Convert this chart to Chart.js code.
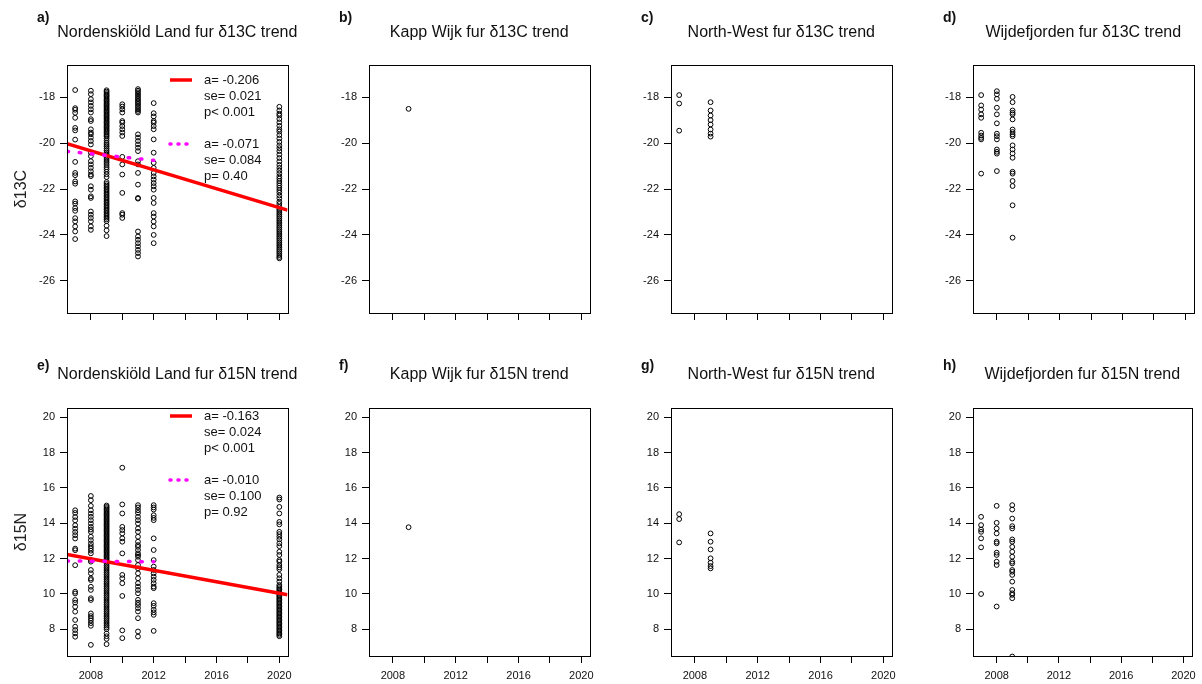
<!DOCTYPE html>
<html>
<head>
<meta charset="utf-8">
<title>δ13C and δ15N trends by region</title>
<script src="https://cdn.jsdelivr.net/npm/chart.js@4.4.1/dist/chart.umd.min.js"></script>
<style>
  html, body { margin: 0; padding: 0; background: #fff; }
  #grid { position: relative; width: 1202px; height: 684px; overflow: hidden; background: #fff; }
  #grid canvas { position: absolute; }
</style>
</head>
<body>
<div id="grid"></div>
<script>
// ---- axes ----
const yearTicks = [2008, 2010, 2012, 2014, 2016, 2018, 2020];
const yearLabels = [2008, 2012, 2016, 2020];
const yearRange = [2006.48, 2020.52];
const c13Ticks = [-26, -24, -22, -20, -18];
const c13Range = [-27.4, -16.6];
const n15Ticks = [8, 10, 12, 14, 16, 18, 20];
const n15Range = [6.48, 20.52];

const regions = ['Nordenskiöld Land', 'Kapp Wijk', 'North-West', 'Wijdefjorden'];
const letters = ['a)', 'b)', 'c)', 'd)', 'e)', 'f)', 'g)', 'h)'];

// ---- Nordenskiöld Land, δ13C ----
const nordC2007 = [-17.69, -18.48, -18.55, -18.68, -18.90, -19.34, -19.45, -19.85, -20.82, -21.30, -21.40, -21.67, -21.77, -22.54, -22.64, -22.83, -22.95, -23.27, -23.41, -23.63, -23.85, -24.18];
const nordC2008 = [-17.72, -17.87, -18.09, -18.23, -18.38, -18.53, -18.67, -18.96, -19.04, -19.40, -19.54, -19.62, -19.76, -19.91, -20.06, -20.42, -20.57, -20.79, -20.93, -21.08, -21.23, -21.37, -21.44, -21.88, -22.03, -22.32, -22.39, -22.98, -23.12, -23.26, -23.41, -23.63, -23.78];
const nordC2009 = [-17.70, -17.76, -17.82, -17.88, -17.93, -17.98, -18.04, -18.10, -18.15, -18.20, -18.26, -18.31, -18.36, -18.42, -18.47, -18.52, -18.58, -18.63, -18.68, -18.74, -18.79, -18.84, -18.90, -18.95, -19.00, -19.06, -19.11, -19.16, -19.22, -19.27, -19.32, -19.38, -19.43, -19.48, -19.54, -19.60, -19.66, -19.72, -19.80, -19.90, -20.00, -20.08, -20.15, -20.24, -20.32, -20.40, -20.48, -20.55, -20.62, -20.70, -20.78, -20.86, -20.95, -21.05, -21.14, -21.25, -21.36, -21.48, -21.70, -21.78, -21.85, -21.92, -21.99, -22.06, -22.13, -22.20, -22.27, -22.34, -22.41, -22.48, -22.55, -22.62, -22.69, -22.76, -22.83, -22.90, -22.97, -23.04, -23.11, -23.18, -23.25, -23.32, -23.40, -23.60, -23.80, -24.05];
const nordC2010 = [-18.31, -18.41, -18.53, -18.67, -19.04, -19.11, -19.26, -19.40, -19.54, -19.69, -20.60, -20.93, -21.37, -22.17, -23.05, -23.12, -23.26];
const nordC2011 = [-17.65, -17.72, -17.79, -17.87, -17.94, -18.02, -18.09, -18.16, -18.23, -18.30, -18.38, -18.45, -18.53, -18.60, -18.67, -19.62, -19.76, -19.91, -20.06, -20.20, -20.35, -20.79, -20.93, -21.30, -21.81, -22.39, -22.42, -23.85, -24.07, -24.21, -24.36, -24.50, -24.65, -24.79, -24.94];
const nordC2012 = [-18.26, -18.70, -18.84, -19.04, -19.11, -19.26, -19.40, -19.84, -20.42, -20.86, -21.08, -21.30, -21.45, -21.59, -21.74, -21.88, -22.03, -22.39, -22.61, -23.05, -23.20, -23.42, -23.63, -24.00, -24.36];
const nordC2020 = [-18.42, -18.58, -18.72, -18.80, -18.95, -19.10, -19.25, -19.40, -19.50, -19.65, -19.80, -19.95, -20.10, -20.22, -20.35, -20.50, -20.65, -20.80, -20.95, -21.08, -21.20, -21.32, -21.45, -21.55, -21.65, -21.75, -21.85, -21.95, -22.05, -22.15, -22.28, -22.40, -22.55, -22.65, -22.78, -22.88, -22.96, -23.04, -23.12, -23.20, -23.28, -23.36, -23.44, -23.52, -23.60, -23.68, -23.76, -23.84, -23.92, -24.00, -24.08, -24.16, -24.24, -24.32, -24.40, -24.48, -24.56, -24.64, -24.72, -24.80, -24.88, -24.96, -25.02];

// ---- Nordenskiöld Land, δ15N ----
const nordN2007 = [14.73, 14.58, 14.35, 14.16, 13.88, 13.69, 13.50, 13.32, 13.13, 12.56, 12.47, 11.62, 10.12, 10.02, 9.65, 9.50, 9.27, 8.99, 8.52, 8.14, 7.95, 7.76, 7.57];
const nordN2008 = [15.54, 15.30, 14.98, 14.73, 14.54, 14.36, 14.17, 13.98, 13.79, 13.64, 13.51, 13.23, 13.04, 12.85, 12.70, 12.57, 12.44, 12.29, 11.91, 11.82, 11.35, 11.16, 10.87, 10.78, 10.40, 10.22, 9.75, 9.65, 8.89, 8.74, 8.61, 8.49, 8.34, 8.19, 7.11];
const nordN2009 = [15.00, 14.92, 14.85, 14.78, 14.70, 14.63, 14.56, 14.49, 14.42, 14.35, 14.28, 14.21, 14.14, 14.07, 14.00, 13.93, 13.86, 13.79, 13.72, 13.65, 13.58, 13.51, 13.44, 13.37, 13.30, 13.23, 13.16, 13.09, 13.02, 12.95, 12.88, 12.81, 12.74, 12.67, 12.60, 12.53, 12.46, 12.39, 12.32, 12.25, 12.18, 12.11, 12.04, 11.97, 11.90, 11.80, 11.70, 11.60, 11.50, 11.40, 11.30, 11.20, 11.10, 11.00, 10.90, 10.80, 10.70, 10.60, 10.50, 10.40, 10.30, 10.20, 10.10, 10.00, 9.90, 9.80, 9.70, 9.60, 9.50, 9.40, 9.30, 9.20, 9.10, 9.00, 8.90, 8.80, 8.70, 8.60, 8.50, 8.40, 8.30, 8.20, 8.10, 8.00, 7.75, 7.60, 7.45, 7.15];
const nordN2010 = [17.14, 15.06, 14.55, 13.79, 13.61, 13.42, 13.14, 12.95, 12.29, 11.07, 10.88, 10.60, 9.88, 7.93, 7.49];
const nordN2011 = [15.02, 14.89, 14.73, 14.58, 14.36, 14.17, 13.98, 13.70, 13.51, 13.23, 12.95, 12.76, 12.66, 12.48, 12.29, 12.20, 12.10, 11.91, 11.63, 11.44, 11.16, 10.88, 10.60, 10.41, 10.22, 10.03, 9.66, 9.50, 9.37, 9.19, 9.00, 8.62, 7.87, 7.58];
const nordN2012 = [15.02, 14.89, 14.77, 14.45, 14.30, 14.17, 13.14, 12.48, 11.91, 11.54, 11.35, 11.16, 10.97, 10.79, 10.60, 10.41, 10.32, 9.47, 9.32, 9.10, 8.95, 8.81, 7.90];
const nordN2020 = [15.45, 15.34, 14.92, 14.55, 14.07, 13.93, 13.51, 13.38, 13.23, 13.08, 12.86, 12.70, 12.38, 12.20, 11.91, 11.82, 11.63, 11.50, 11.39, 11.07, 10.88, 10.69, 10.50, 10.40, 10.32, 10.24, 10.16, 10.08, 10.00, 9.92, 9.84, 9.76, 9.68, 9.60, 9.52, 9.44, 9.36, 9.28, 9.20, 9.12, 9.04, 8.96, 8.88, 8.80, 8.72, 8.64, 8.56, 8.48, 8.40, 8.32, 8.24, 8.16, 8.08, 8.00, 7.92, 7.84, 7.76, 7.68, 7.60];

// ---- Kapp Wijk ----
const kappC2009 = [-18.51];
const kappN2009 = [13.77];

// ---- North-West ----
const nwC2007 = [-17.91, -18.28, -19.46];
const nwC2009 = [-18.22, -18.58, -18.80, -19.00, -19.19, -19.41, -19.59, -19.72];
const nwN2007 = [14.51, 14.23, 12.91];
const nwN2009 = [13.42, 12.95, 12.51, 12.01, 11.76, 11.57, 11.44];

// ---- Wijdefjorden ----
const wijdC2007 = [-17.91, -18.36, -18.54, -18.75, -18.90, -19.55, -19.67, -19.77, -19.84, -21.33];
const wijdC2008 = [-17.74, -17.88, -18.07, -18.46, -18.75, -19.14, -19.59, -19.70, -19.84, -20.28, -20.38, -20.46, -21.22];
const wijdC2009 = [-17.99, -18.22, -18.58, -18.68, -18.75, -18.97, -19.41, -19.52, -19.62, -19.70, -20.10, -20.28, -20.45, -20.64, -21.25, -21.33, -21.65, -21.87, -22.71, -24.12];
const wijdN2007 = [14.36, 13.89, 13.64, 13.51, 13.14, 12.63, 9.99];
const wijdN2008 = [14.98, 14.02, 13.70, 13.42, 12.95, 12.86, 12.33, 12.20, 11.82, 11.63, 9.28];
const wijdN2009 = [15.02, 14.77, 14.26, 13.83, 13.70, 13.08, 12.95, 12.66, 12.38, 12.10, 11.82, 11.72, 11.35, 11.25, 11.07, 10.69, 10.22, 10.03, 9.94, 9.75, 6.45];

// ---- Nordenskiöld Land trend fits: [all years, 2007–2012] ----
const fitSlopeC = [-0.206, -0.071];
const fitSeC = [0.021, 0.084];
const fitPC = ['p< 0.001', 'p= 0.40'];
const fitLevelC = [-22.81, -20.75];     // fitted δ13C at the reference year
const fitSlopeN = [-0.163, -0.010];
const fitSeN = [0.024, 0.100];
const fitPN = ['p< 0.001', 'p= 0.92'];
const fitLevelN = [10.03, 11.81];       // fitted δ15N at the reference year
const fitRefYear = [2020, 2012];
const fitSpan = [[2006.48, 2020.52], [2006.48, 2012]];
const fitColors = ['#ff0000', '#ff00ff'];

const FONT = '"Liberation Sans", Arial, Helvetica, sans-serif';
Chart.defaults.font.family = FONT;

const toPoints = (year, values) => values.map(v => ({ x: year, y: v }));

function fitLine(k, slopes, levels) {
  const [x0, x1] = fitSpan[k];
  const yAt = x => levels[k] + slopes[k] * (x - fitRefYear[k]);
  return [{ x: x0, y: yAt(x0) }, { x: x1, y: yAt(x1) }];
}

// frame, panel letter, title and the fit legend
const panelDecor = {
  id: 'panelDecor',
  afterDatasetsDraw(chart, args, opts) {
    const { ctx, chartArea: ca } = chart;
    ctx.save();
    ctx.strokeStyle = '#000';
    ctx.lineWidth = 1;
    const l = Math.round(ca.left) + 0.5, t = Math.round(ca.top) + 0.5;
    const r = Math.round(ca.right) + 0.5, b = Math.round(ca.bottom) + 0.5;
    ctx.strokeRect(l, t, r - l, b - t);

    ctx.fillStyle = '#111';
    ctx.textBaseline = 'middle';
    ctx.textAlign = 'left';
    ctx.font = 'bold 14px ' + FONT;
    ctx.fillText(opts.letter, 37, opts.letterY);

    ctx.font = '16px ' + FONT;
    ctx.textAlign = 'center';
    ctx.fillText(opts.title, (ca.left + ca.right) / 2, opts.titleY);

    if (opts.legend) {
      ctx.font = '13px ' + FONT;
      ctx.textAlign = 'left';
      opts.legend.forEach((row, i) => {
        const y = opts.legendY + i * 16;
        if (row.color) {
          ctx.beginPath();
          ctx.strokeStyle = row.color;
          ctx.lineWidth = 3.5;
          if (row.dotted) { ctx.setLineDash([1, 7]); ctx.lineCap = 'round'; }
          else { ctx.setLineDash([]); ctx.lineCap = 'butt'; }
          ctx.moveTo(170, y);
          ctx.lineTo(192, y);
          ctx.stroke();
          ctx.setLineDash([]);
        }
        if (row.text) {
          ctx.fillStyle = '#111';
          ctx.fillText(row.text, 204, y);
        }
      });
    }
    ctx.restore();
  }
};

function legendRows(slopes, ses, ps) {
  const rows = [];
  [0, 1].forEach(k => {
    if (k) rows.push({});
    rows.push({ color: fitColors[k], dotted: k === 1, text: 'a= ' + slopes[k].toFixed(3) });
    rows.push({ text: 'se= ' + ses[k].toFixed(3) });
    rows.push({ text: ps[k] });
  });
  return rows;
}

function makePanel(idx, cfg) {
  const col = idx % 4, row = Math.floor(idx / 4);
  const W = col === 3 ? 296 : 302;
  const H = row === 0 ? 343 : 341;
  const canvas = document.createElement('canvas');
  canvas.width = W;
  canvas.height = H;
  canvas.style.width = W + 'px';
  canvas.style.height = H + 'px';
  canvas.style.left = (col * 302) + 'px';
  canvas.style.top = (row * 343) + 'px';
  document.getElementById('grid').appendChild(canvas);

  const datasets = [];
  cfg.groups.forEach(([year, values]) => {
    datasets.push({
      data: toPoints(year, values),
      showLine: false,
      pointStyle: 'circle',
      pointRadius: 2.4,
      pointBorderWidth: 1,
      pointBorderColor: '#000',
      pointBackgroundColor: 'rgba(0,0,0,0)',
      order: 3
    });
  });
  (cfg.fits || []).forEach((fit, k) => {
    datasets.push({
      data: fit,
      showLine: true,
      pointRadius: 0,
      borderColor: fitColors[k],
      borderWidth: 3.5,
      borderDash: k === 1 ? [1.5, 10.8] : [],
      borderCapStyle: k === 1 ? 'round' : 'butt',
      fill: false,
      order: 2 - k
    });
  });

  const tickFont = { size: 11, family: FONT };
  new Chart(canvas, {
    type: 'scatter',
    data: { datasets },
    plugins: [panelDecor],
    options: {
      responsive: false,
      animation: false,
      devicePixelRatio: 1,
      events: [],
      layout: { padding: { top: 65, right: W - 287.5, left: 0, bottom: 0 } },
      plugins: {
        legend: { display: false },
        tooltip: { enabled: false },
        panelDecor: {
          letter: letters[idx],
          letterY: row === 0 ? 18 : 23,
          title: cfg.title,
          titleY: row === 0 ? 33 : 32,
          legend: cfg.legend,
          legendY: row === 0 ? 80 : 73
        }
      },
      scales: {
        x: {
          type: 'linear',
          min: yearRange[0],
          max: yearRange[1],
          afterBuildTicks: s => { s.ticks = yearTicks.map(v => ({ value: v })); },
          afterFit: s => { s.height = H - 313; },
          ticks: {
            autoSkip: false,
            maxRotation: 0,
            minRotation: 0,
            padding: 6,
            color: '#111',
            font: tickFont,
            callback: v => (row === 1 && yearLabels.includes(v)) ? String(v) : ''
          },
          grid: { drawOnChartArea: false, drawTicks: true, tickLength: 7, color: '#000', lineWidth: 1 },
          border: { display: false }
        },
        y: {
          type: 'linear',
          min: cfg.yRange[0],
          max: cfg.yRange[1],
          afterBuildTicks: s => { s.ticks = cfg.yTicks.map(v => ({ value: v })); },
          afterFit: s => { s.width = 67; },
          ticks: {
            padding: 5,
            color: '#111',
            font: tickFont,
            callback: v => String(v)
          },
          grid: { drawOnChartArea: false, drawTicks: true, tickLength: 7, color: '#000', lineWidth: 1 },
          border: { display: false },
          title: {
            display: col === 0,
            text: cfg.yTitle,
            color: '#222',
            font: { size: 16, family: FONT },
            padding: { top: 12, bottom: 0 }
          }
        }
      }
    }
  });
}

const panels = [
  { title: regions[0] + ' fur δ13C trend', yTitle: 'δ13C', yRange: c13Range, yTicks: c13Ticks,
    groups: [[2007, nordC2007], [2008, nordC2008], [2009, nordC2009], [2010, nordC2010], [2011, nordC2011], [2012, nordC2012], [2020, nordC2020]],
    fits: [fitLine(0, fitSlopeC, fitLevelC), fitLine(1, fitSlopeC, fitLevelC)],
    legend: legendRows(fitSlopeC, fitSeC, fitPC) },
  { title: regions[1] + ' fur δ13C trend', yRange: c13Range, yTicks: c13Ticks,
    groups: [[2009, kappC2009]] },
  { title: regions[2] + ' fur δ13C trend', yRange: c13Range, yTicks: c13Ticks,
    groups: [[2007, nwC2007], [2009, nwC2009]] },
  { title: regions[3] + ' fur δ13C trend', yRange: c13Range, yTicks: c13Ticks,
    groups: [[2007, wijdC2007], [2008, wijdC2008], [2009, wijdC2009]] },
  { title: regions[0] + ' fur δ15N trend', yTitle: 'δ15N', yRange: n15Range, yTicks: n15Ticks,
    groups: [[2007, nordN2007], [2008, nordN2008], [2009, nordN2009], [2010, nordN2010], [2011, nordN2011], [2012, nordN2012], [2020, nordN2020]],
    fits: [fitLine(0, fitSlopeN, fitLevelN), fitLine(1, fitSlopeN, fitLevelN)],
    legend: legendRows(fitSlopeN, fitSeN, fitPN) },
  { title: regions[1] + ' fur δ15N trend', yRange: n15Range, yTicks: n15Ticks,
    groups: [[2009, kappN2009]] },
  { title: regions[2] + ' fur δ15N trend', yRange: n15Range, yTicks: n15Ticks,
    groups: [[2007, nwN2007], [2009, nwN2009]] },
  { title: regions[3] + ' fur δ15N trend', yRange: n15Range, yTicks: n15Ticks,
    groups: [[2007, wijdN2007], [2008, wijdN2008], [2009, wijdN2009]] }
];

panels.forEach((cfg, i) => makePanel(i, cfg));
</script>
</body>
</html>
